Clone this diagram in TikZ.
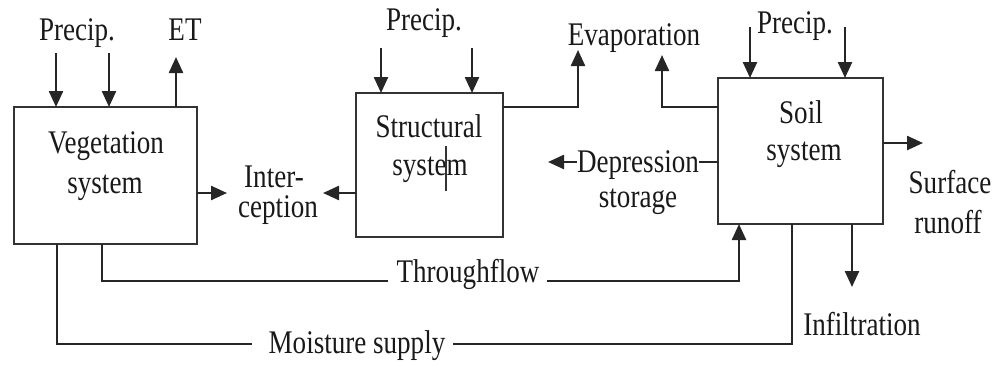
\documentclass[tikz,border=0pt]{standalone}
\usepackage{fontspec}
\setmainfont[FakeStretch=0.82]{Liberation Serif}
\usetikzlibrary{arrows.meta}
\begin{document}
\begin{tikzpicture}[x=1pt,y=-1pt,
  sysbox/.style={draw=black!80,line width=2.6pt,rectangle,outer sep=0pt,inner sep=0pt},
  lbl/.style={anchor=base,inner sep=0pt,text=black!90,font=\fontsize{33}{36}\selectfont},
  flow/.style={draw=black!85,line width=2.4pt},
  arr/.style={flow,-{Triangle[length=16pt,width=14pt]}}]
\useasboundingbox (0,0) rectangle (999,365);

% the three system boxes
\node[sysbox,minimum width=183pt,minimum height=137pt] (veg) at (105.5,175.5) {};
\node[sysbox,minimum width=147pt,minimum height=144pt] (struct) at (429.5,165) {};
\node[sysbox,minimum width=165pt,minimum height=146pt] (soil) at (800.5,151) {};

% box captions
\node[lbl] (vegA) at (106,153) {Vegetation};
\node[lbl] (vegB) at (105,193) {system};
\node[lbl] (strA) at (429,137) {Structural};
\node[lbl] (strB) at (430,175) {system};
\node[lbl] (soilA) at (801,123) {Soil};
\node[lbl] (soilB) at (804,160) {system};

% flow labels
\node[lbl] (precV) at (77,40) {Precip.};
\node[lbl] (et) at (185,40) {ET};
\node[lbl] (interA) at (274,187) {Inter-};
\node[lbl] (interB) at (278,217) {ception};
\node[lbl] (precS) at (424,30) {Precip.};
\node[lbl] (evap) at (634,45) {Evaporation};
\node[lbl] (depA) at (638,172) {Depression};
\node[lbl] (depB) at (638,207) {storage};
\node[lbl] (precSoil) at (795,33) {Precip.};
\node[lbl] (surfA) at (950,193) {Surface};
\node[lbl] (surfB) at (948,233) {runoff};
\node[lbl] (infil) at (862,335) {Infiltration};
\node[lbl] (thru) at (468,282) {Throughflow};
\node[lbl] (moist) at (357,353) {Moisture supply};

% free ends of the connectors
\coordinate (pv1) at (56,53);
\coordinate (pv2) at (109,53);
\coordinate (etTip) at (176,57);
\coordinate (intR) at (227,193);
\coordinate (intL) at (323,193);
\coordinate (ps1) at (381,48);
\coordinate (ps2) at (472,48);
\coordinate (evTip) at (578,50);
\coordinate (evTip2) at (662,55);
\coordinate (depE) at (699,162);
\coordinate (depW) at (577,162);
\coordinate (depTip) at (548,162);
\coordinate (pso1) at (750,27);
\coordinate (pso2) at (845,27);
\coordinate (runTip) at (923,143);
\coordinate (infTip) at (852,287);
\coordinate (thruL) at (388,281);
\coordinate (thruR) at (547,281);
\coordinate (moistL) at (252,344);
\coordinate (moistR) at (453,344);

% vegetation system
\draw[arr] (pv1) -- (veg.north -| pv1);
\draw[arr] (pv2) -- (veg.north -| pv2);
\draw[arr] (veg.north -| etTip) -- (etTip);
\draw[arr] (veg.east |- intR) -- (intR);

% structural system
\draw[arr] (struct.west |- intL) -- (intL);
\draw[arr] (ps1) -- (struct.north -| ps1);
\draw[arr] (ps2) -- (struct.north -| ps2);
\draw[arr] (struct.east |- 0,107) -| (evTip);
\draw[black!80,line width=1.6pt] (446,146) -- (446,191);

% soil system
\draw[arr] (soil.west |- 0,107) -| (evTip2);
\draw[flow] (soil.west |- depE) -- (depE);
\draw[arr] (depW) -- (depTip);
\draw[arr] (pso1) -- (soil.north -| pso1);
\draw[arr] (pso2) -- (soil.north -| pso2);
\draw[arr] (soil.east |- runTip) -- (runTip);
\draw[arr] (soil.south -| infTip) -- (infTip);

% throughflow and moisture supply
\draw[flow] (veg.south -| 102,0) |- (thruL);
\draw[arr] (thruR) -| (soil.south -| 739,0);
\draw[flow,line width=1.8pt] (veg.south -| 57,0) |- (moistL);
\draw[flow,line width=1.8pt] (moistR) -| (soil.south -| 792,0);
\end{tikzpicture}
\end{document}
